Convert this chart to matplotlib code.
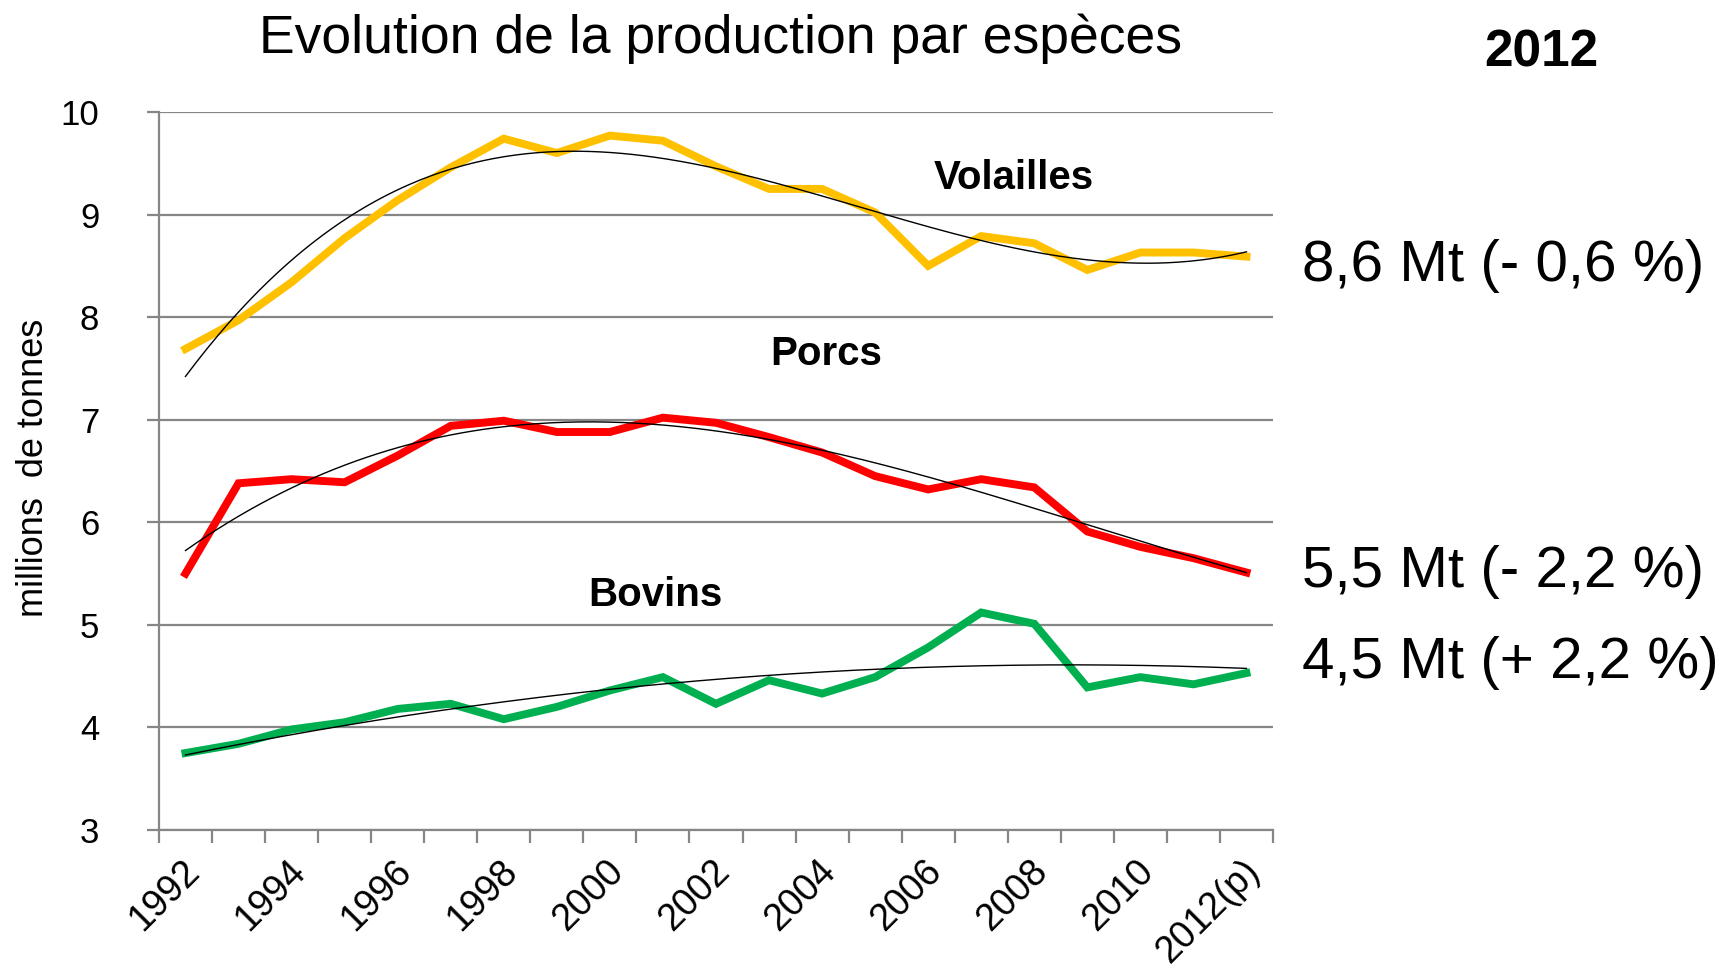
import numpy as np
import matplotlib
matplotlib.use("Agg")
import matplotlib.pyplot as plt
from matplotlib.transforms import ScaledTranslation

plt.rcParams['font.family'] = ['Liberation Sans', 'DejaVu Sans']

years = ['1992', '1993', '1994', '1995', '1996', '1997', '1998', '1999', '2000',
         '2001', '2002', '2003', '2004', '2005', '2006', '2007', '2008', '2009',
         '2010', '2011', '2012(p)']
volailles = [7.69, 7.97, 8.34, 8.77, 9.14, 9.46, 9.74, 9.60, 9.77, 9.72, 9.47,
             9.25, 9.25, 9.02, 8.50, 8.79, 8.72, 8.46, 8.63, 8.63, 8.59]
porcs = [5.50, 6.38, 6.42, 6.39, 6.65, 6.94, 6.99, 6.88, 6.88, 7.02, 6.97,
         6.83, 6.68, 6.45, 6.32, 6.42, 6.34, 5.91, 5.76, 5.65, 5.51]
bovins = [3.75, 3.84, 3.98, 4.05, 4.18, 4.23, 4.08, 4.20, 4.36, 4.49, 4.23,
          4.46, 4.33, 4.49, 4.78, 5.12, 5.01, 4.39, 4.49, 4.42, 4.53]
series_names = ['Volailles', 'Porcs', 'Bovins']
series_colors = ['#FFC000', '#FF0000', '#00B050']
trend_degrees = [3, 3, 2]
annotations = ['8,6 Mt (- 0,6 %)', '5,5 Mt (- 2,2 %)', '4,5 Mt (+ 2,2 %)']

fig = plt.figure(figsize=(17.24, 9.68), dpi=100)
ax = fig.add_axes([0.0922, 0.1426, 0.6462, 0.7417])

x = np.arange(len(years))
grid_c = '#868686'
for vals, col, deg in zip([volailles, porcs, bovins], series_colors, trend_degrees):
    ax.plot(x, vals, color=col, lw=5.7, solid_joinstyle='miter', zorder=3)
    coef = np.polyfit(x, vals, deg)
    xs = np.linspace(0, len(years) - 1, 300)
    ax.plot(xs, np.polyval(coef, xs), color='black', lw=1.0, zorder=4)

ax.set_xlim(-0.5, len(years) - 0.5)
ax.set_ylim(3, 10)
ax.set_yticks(np.arange(3, 11, 1))
ax.set_yticklabels([str(v) for v in range(3, 11)], fontsize=25)
ax.yaxis.grid(True, color=grid_c, lw=1.6)
ax.set_axisbelow(True)
for s in ['top', 'right']:
    ax.spines[s].set_visible(False)
for s in ['left', 'bottom']:
    ax.spines[s].set_color(grid_c)
    ax.spines[s].set_linewidth(1.6)
ax.tick_params(axis='y', direction='out', length=9, width=1.6, color=grid_c, pad=34)

ax.set_xticks(np.arange(-0.5, len(years), 1))
ax.set_xticklabels([])
ax.tick_params(axis='x', which='major', direction='out', length=9, width=1.6, color=grid_c)
ax.set_xticks(x[::2], [years[i] for i in x[::2]], minor=True)
ax.tick_params(axis='x', which='minor', length=0, pad=26, labelsize=27)
for lab in ax.get_xticklabels(minor=True):
    lab.set_rotation(45)
    lab.set_horizontalalignment('right')
    lab.set_verticalalignment('center')
    lab.set_rotation_mode('anchor')
    lab.set_transform(lab.get_transform() + ScaledTranslation(8/100, 0, fig.dpi_scale_trans))

ax.text(15.62, 9.36, 'Volailles', fontsize=29, fontweight='bold', ha='center', va='center')
ax.text(12.07, 7.64, 'Porcs', fontsize=29, fontweight='bold', ha='center', va='center')
ax.text(8.86, 5.29, 'Bovins', fontsize=29, fontweight='bold', ha='center', va='center')

fig.text(0.4177, 0.960, 'Evolution de la production par espèces', fontsize=38.5,
         ha='center', va='center')
fig.text(0.894, 0.945, '2012', fontsize=37, fontweight='bold', ha='center', va='center')
for txt, yy in zip(annotations, [0.725, 0.409, 0.315]):
    fig.text(0.7552, yy, txt, fontsize=42, ha='left', va='center')
fig.text(0.0195, 0.517, 'millions  de tonnes', fontsize=26, rotation=90,
         ha='center', va='center')

fig.savefig('out.png', dpi=100)
